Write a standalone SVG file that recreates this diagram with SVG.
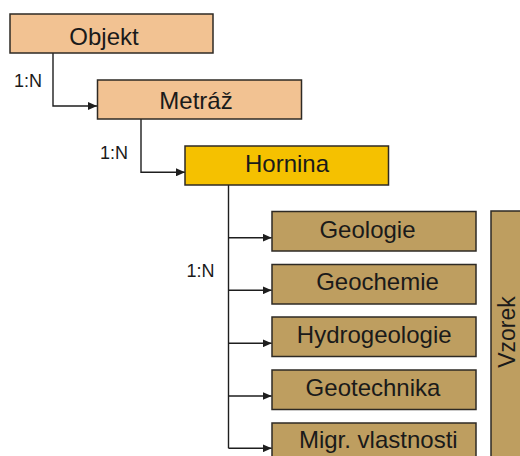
<svg xmlns="http://www.w3.org/2000/svg" width="520" height="456" viewBox="0 0 520 456">
<defs>
<marker id="ah" markerWidth="9" markerHeight="8" refX="9" refY="4" orient="auto" markerUnits="userSpaceOnUse">
<path d="M0,0 L9,4 L0,8 Z" fill="#1e1e1e"/>
</marker>
<style>
.box{stroke:#2e2a24;stroke-width:1.5}
.peach{fill:#F2C292}
.gold{fill:#F5C100}
.brown{fill:#BE9E60}
.t{font-family:"Liberation Sans",Arial,sans-serif;font-size:24px;fill:#1a1a1a;text-anchor:middle}
.v{font-size:23px}
.lbl{font-family:"Liberation Sans",Arial,sans-serif;font-size:18px;fill:#1a1a1a}
.c{fill:none;stroke:#1e1e1e;stroke-width:1.4}
</style>
</defs>
<rect width="520" height="456" fill="#ffffff"/>
<g id="connectors">
<path class="c" d="M53,53 V106 H97" marker-end="url(#ah)"/>
<path class="c" d="M141,119 V172.3 H185" marker-end="url(#ah)"/>
<path class="c" d="M228.5,185 V448.3"/>
<path class="c" d="M228.5,237.7 H271.7" marker-end="url(#ah)"/>
<path class="c" d="M228.5,290.3 H271.7" marker-end="url(#ah)"/>
<path class="c" d="M228.5,343.3 H271.7" marker-end="url(#ah)"/>
<path class="c" d="M228.5,396 H271.7" marker-end="url(#ah)"/>
<path class="c" d="M228.5,448.3 H271.7" marker-end="url(#ah)"/>
<text class="lbl" x="14" y="87">1:N</text>
<text class="lbl" x="100" y="159">1:N</text>
<text class="lbl" x="186.5" y="277">1:N</text>
</g>
<g id="objekt">
<rect class="box peach" x="10" y="14" width="203" height="39"/>
<text class="t" x="104" y="45">Objekt</text>
</g>
<g id="metraz">
<rect class="box peach" x="97.5" y="80" width="204" height="39"/>
<text class="t" x="196" y="109">Metráž</text>
</g>
<g id="hornina">
<rect class="box gold" x="185" y="146" width="203.5" height="39"/>
<text class="t" x="287" y="172">Hornina</text>
</g>
<g id="geologie">
<rect class="box brown" x="272" y="211.5" width="204" height="39.5"/>
<text class="t" x="367.5" y="237.7">Geologie</text>
</g>
<g id="geochemie">
<rect class="box brown" x="272" y="264.5" width="204" height="39.5"/>
<text class="t" x="377.5" y="290.3">Geochemie</text>
</g>
<g id="hydrogeologie">
<rect class="box brown" x="272" y="317" width="204" height="39.5"/>
<text class="t" x="374.2" y="343.3">Hydrogeologie</text>
</g>
<g id="geotechnika">
<rect class="box brown" x="272" y="370" width="204" height="39.5"/>
<text class="t" x="373" y="396">Geotechnika</text>
</g>
<g id="migr">
<rect class="box brown" x="272" y="423" width="204" height="45"/>
<text class="t" x="378.3" y="448.3">Migr. vlastnosti</text>
</g>
<g id="vzorek">
<rect class="box brown" x="491" y="211" width="40" height="260"/>
<text class="t v" transform="translate(514.5,332) rotate(-90)" x="0" y="0">Vzorek</text>
</g>
</svg>
